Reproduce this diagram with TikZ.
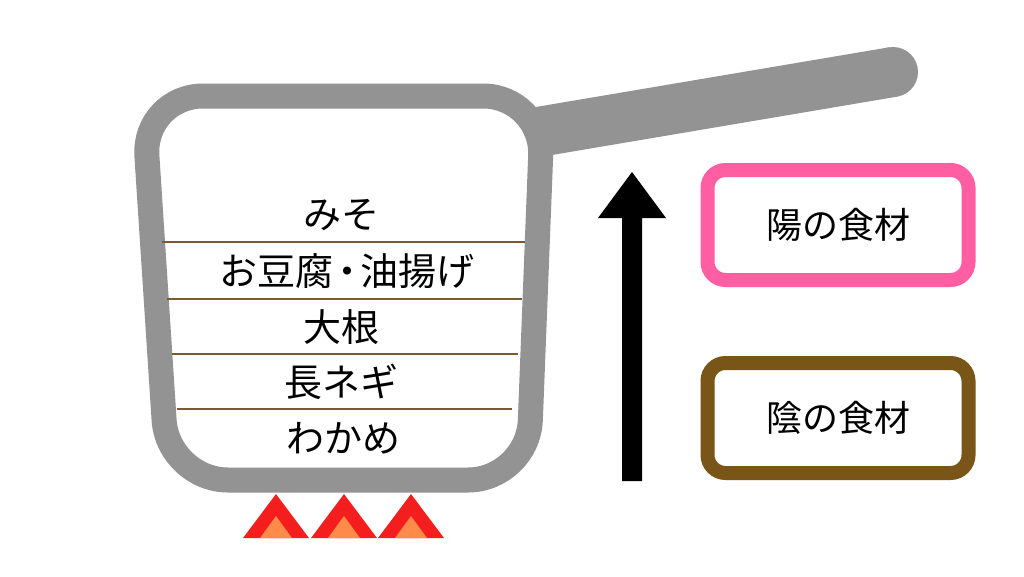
\documentclass[tikz,border=0pt]{standalone}
\usepackage{fontspec}
\newfontfamily\jp{Noto Sans CJK JP}
\definecolor{potgray}{HTML}{939393}
\definecolor{linebrown}{HTML}{7A5C2E}
\definecolor{boxpink}{HTML}{FF5FA2}
\definecolor{boxbrown}{HTML}{7A5518}
\definecolor{flamered}{HTML}{F51E1E}
\definecolor{flameorange}{HTML}{FF8A4A}
\begin{document}
\begin{tikzpicture}[x=1pt,y=-1pt,
  food/.style={font=\jp\fontsize{38}{39}\selectfont, inner sep=0pt},
  layer/.style={linebrown, line width=2.2pt},
  kind/.style={draw, line width=14pt, rounded corners=18pt, minimum width=261pt, minimum height=110pt, font=\jp\fontsize{36}{37}\selectfont}]
\useasboundingbox[fill=white] (0,0) rectangle (1024,576);
% handle
\coordinate (h1) at (538,132);
\coordinate (h2) at (893,72);
\draw[potgray, line width=50pt] (h1) -- (h2);
\fill[potgray] (h2) circle (25pt);
% pot
\draw[potgray, line width=25pt, rounded corners=60pt]
  (345,96) -- (543,96) -- (528,480) -- (168,480) -- (143,96) -- cycle;
% layers
\draw[layer] (162,242) -- (525,242);
\draw[layer] (167,299) -- (522,299);
\draw[layer] (172,354) -- (518,354);
\draw[layer] (177,409) -- (512,409);
\node[food] (t1) at (341,215) {みそ};
\node[food] (t2) at (347,271) {お豆腐\hspace{-0.15em}・\hspace{-0.15em}油揚げ};
\node[food] (t3) at (341,327) {大根};
\node[food] (t4) at (341,382) {長ネギ};
\node[food] (t5) at (343,438) {わかめ};
% flames
\foreach \c in {276,344,411}{
  \fill[flamered] (\c-33,538) -- (\c,494) -- (\c+33,538) -- cycle;
  \fill[flameorange] (\c-16,538) -- (\c,516) -- (\c+16,538) -- cycle;
}
% arrow
\coordinate (a0) at (632,481);
\coordinate (a1) at (632,172);
\fill[black] (622,481) -- (622,218) -- (598,218) -- (a1) -- (666,218) -- (642,218) -- (642,481) -- cycle;
% boxes
\node[kind, draw=boxpink] (yang) at (838,225) {陽の食材};
\node[kind, draw=boxbrown] (yin) at (838,418) {陰の食材};
\end{tikzpicture}
\end{document}
